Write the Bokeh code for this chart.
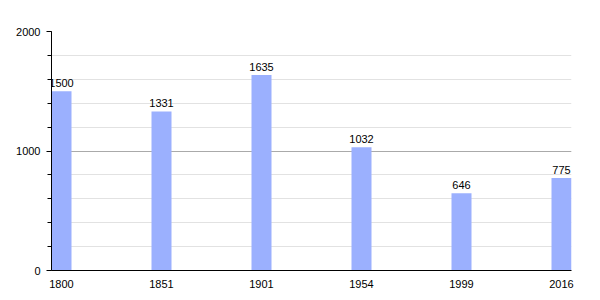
from bokeh.plotting import figure
from bokeh.models import Range1d, FixedTicker, ColumnDataSource
from bokeh.core.properties import value
from bokeh.embed import file_html
from bokeh.resources import INLINE

years = ["1800", "1851", "1901", "1954", "1999", "2016"]
population = [1500, 1331, 1635, 1032, 646, 775]

pos = [i + 0.1 for i in range(len(years))]
src = ColumnDataSource(dict(x=pos, top=population, label=[str(v) for v in population]))

p = figure(width=600, height=300, output_backend="svg", toolbar_location=None,
           x_range=Range1d(0, len(years) - 0.8), y_range=Range1d(0, 2000),
           min_border_left=51, min_border_right=29, min_border_top=31, min_border_bottom=30)
p.outline_line_color = None
p.background_fill_color = "white"
p.border_fill_color = "white"

p.xgrid.grid_line_color = None
p.ygrid.grid_line_color = "#aaaaaa"
p.ygrid.minor_grid_line_color = "#e2e2e2"

p.yaxis.ticker = FixedTicker(ticks=[0, 1000, 2000], minor_ticks=list(range(0, 2001, 200)))
p.yaxis.major_tick_in = 0
p.yaxis.major_tick_out = 5
p.yaxis.minor_tick_in = 0
p.yaxis.minor_tick_out = 4
p.yaxis.axis_line_color = "black"
p.yaxis.major_tick_line_color = "black"
p.yaxis.minor_tick_line_color = "black"
p.yaxis.major_label_standoff = 6

p.xaxis.ticker = FixedTicker(ticks=pos)
p.xaxis.major_label_overrides = {x: y for x, y in zip(pos, years)}
p.xaxis.major_tick_line_color = None
p.xaxis.minor_tick_line_color = None
p.xaxis.axis_line_color = "black"
p.xaxis.major_label_standoff = 3

for ax in (p.xaxis, p.yaxis):
    ax.major_label_text_font = "Liberation Sans"
    ax.major_label_text_font_size = "11px"
    ax.major_label_text_color = "black"

p.vbar(x="x", top="top", width=0.2, bottom=0, source=src, fill_color="#9bb0fe", line_color=None)
p.text(x="x", y="top", text="label", source=src, text_align="center", text_baseline="bottom",
       y_offset=-4, text_font=value("Liberation Sans"), text_font_size="11px", text_color="black")

open("out.html", "w").write(file_html(p, INLINE))
